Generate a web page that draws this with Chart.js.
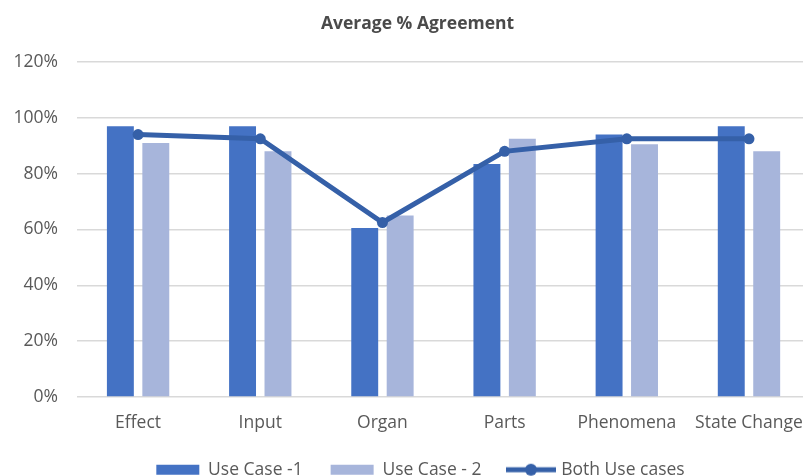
<!DOCTYPE html>
<html>
<head>
<meta charset="utf-8">
<title>Average % Agreement</title>
<script src="https://cdn.jsdelivr.net/npm/chart.js@4.4.0/dist/chart.umd.min.js"></script>
<style>
  html, body { margin: 0; padding: 0; background: #fff; overflow: hidden; }
  /* the source chart is a bit wider than the window and cut off on the right */
  #wrap { position: relative; width: 820px; height: 476px; }
</style>
</head>
<body>
<div id="wrap"><canvas id="agreementChart"></canvas></div>
<script>
// values, in percent
const categories = ['Effect', 'Input', 'Organ', 'Parts', 'Phenomena', 'State Change'];
const useCase1 = [97, 97, 60.5, 83.5, 94, 97];
const useCase2 = [91, 88, 65, 92.5, 90.5, 88];
const bothUseCases = [94, 92.5, 62.5, 88, 92.5, 92.5];
const yTicks = [0, 20, 40, 60, 80, 100, 120];

const DARK = '#4472C4';
const LIGHT = '#A7B5DB';
const LINE = '#3560A8';
const TEXT = '#595959';
const FONT = "'Open Sans', 'Noto Sans', sans-serif";

// legend icon for the line series: a short line with a dot in the middle
function makeLineIcon() {
    const c = document.createElement('canvas');
    c.width = 50;
    c.height = 14;
    const g = c.getContext('2d');
    g.strokeStyle = LINE;
    g.lineWidth = 5;
    g.beginPath();
    g.moveTo(0, 7);
    g.lineTo(50, 7);
    g.stroke();
    g.fillStyle = LINE;
    g.beginPath();
    g.arc(25, 7, 6, 0, Math.PI * 2);
    g.fill();
    return c;
}
const lineIcon = makeLineIcon();

// title and legend sit a little right of the canvas centre in the source
const nudgeCentre = {
    id: 'nudgeCentre',
    afterLayout(chart) {
        if (chart.titleBlock) chart.titleBlock.left += 13;
        if (chart.legend) chart.legend.left += 19;
    }
};

const ctx = document.getElementById('agreementChart').getContext('2d');
const chart = new Chart(ctx, {
    type: 'bar',
    data: {
        labels: categories,
        datasets: [
            {
                label: 'Use Case -1',
                data: useCase1,
                backgroundColor: DARK,
                borderWidth: 0,
                categoryPercentage: 0.58,
                barPercentage: 0.76,
                order: 1
            },
            {
                label: 'Use Case - 2',
                data: useCase2,
                backgroundColor: LIGHT,
                borderWidth: 0,
                categoryPercentage: 0.58,
                barPercentage: 0.76,
                order: 1
            },
            {
                type: 'line',
                label: 'Both Use cases',
                data: bothUseCases,
                borderColor: LINE,
                backgroundColor: LINE,
                borderWidth: 5,
                pointRadius: 5.5,
                pointBackgroundColor: LINE,
                pointBorderWidth: 0,
                tension: 0,
                order: 0 // drawn over the bars
            }
        ]
    },
    options: {
        responsive: true,
        maintainAspectRatio: false,
        animation: false,
        layout: { padding: { left: 10, right: 8, top: 0, bottom: 0 } },
        plugins: {
            title: {
                display: true,
                text: 'Average % Agreement',
                color: '#4a4a4a',
                font: { family: FONT, size: 17.5, weight: 'bold' },
                padding: { top: 14, bottom: 27 }
            },
            legend: {
                position: 'bottom',
                maxHeight: 43,
                labels: {
                    color: TEXT,
                    font: { family: FONT, size: 17.5 },
                    usePointStyle: true,
                    pointStyleWidth: 43,
                    boxWidth: 43,
                    boxHeight: 10,
                    padding: 28,
                    sort: (a, b) => a.datasetIndex - b.datasetIndex,
                    generateLabels(chart) {
                        const items = Chart.defaults.plugins.legend.labels.generateLabels(chart);
                        items.forEach(it => {
                            it.pointStyle = it.datasetIndex === 2 ? lineIcon : 'rect';
                            it.lineWidth = 0;
                        });
                        return items;
                    }
                }
            },
            tooltip: { enabled: false }
        },
        scales: {
            x: {
                grid: { display: false, drawTicks: false },
                border: { display: false },
                afterFit(scale) {
                    scale.height = 36;
                },
                ticks: {
                    color: TEXT,
                    font: { family: FONT, size: 17.5, lineHeight: 1.1 },
                    padding: 16.5,
                    maxRotation: 0,
                    autoSkip: false
                }
            },
            y: {
                min: 0,
                max: 120,
                afterBuildTicks(scale) {
                    scale.ticks = yTicks.map(v => ({ value: v }));
                },
                afterFit(scale) {
                    scale.width = 67;
                },
                grid: { color: '#D9D9D9', lineWidth: 1.5, drawTicks: false },
                border: { display: false },
                ticks: {
                    color: TEXT,
                    font: { family: FONT, size: 17.5 },
                    padding: 19,
                    callback: v => v + '%'
                }
            }
        }
    },
    plugins: [nudgeCentre]
});
</script>
</body>
</html>
